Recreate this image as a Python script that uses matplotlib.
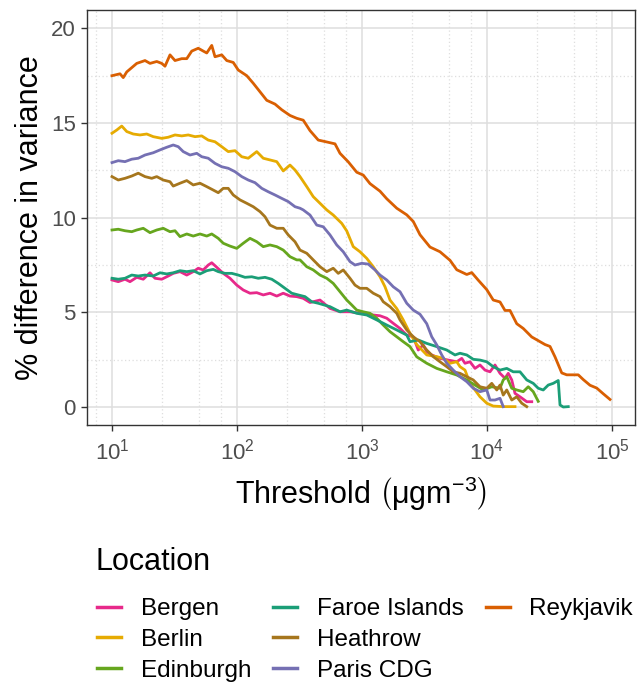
import numpy as np
import matplotlib
matplotlib.use("Agg")
import matplotlib.pyplot as plt
from matplotlib.lines import Line2D
from matplotlib.ticker import FixedLocator, NullFormatter

plt.rcParams['font.family'] = ['Liberation Sans', 'DejaVu Sans']
plt.rcParams['mathtext.fontset'] = 'custom'
plt.rcParams['mathtext.rm'] = 'Liberation Sans'
plt.rcParams['mathtext.it'] = 'Liberation Sans:italic'
plt.rcParams['mathtext.bf'] = 'Liberation Sans:bold'

# data: x = log10(threshold), y = % difference in variance
bergen_x = [1.000, 1.050, 1.104, 1.144, 1.198, 1.250, 1.304, 1.344, 1.398, 1.450, 1.490, 1.544,
            1.598, 1.650, 1.690, 1.730, 1.770, 1.798, 1.838, 1.890, 1.944, 1.998, 2.050, 2.104,
            2.158, 2.210, 2.264, 2.318, 2.370, 2.424, 2.478, 2.530, 2.584, 2.664, 2.744, 2.824,
            2.904, 2.984, 3.090, 3.144, 3.198, 3.250, 3.304, 3.358, 3.410, 3.450, 3.490, 3.518,
            3.558, 3.624, 3.690, 3.758, 3.798, 3.824, 3.864, 3.904, 3.944, 3.984, 4.024, 4.064,
            4.104, 4.144, 4.170, 4.198, 4.224, 4.264, 4.318, 4.358]
bergen_y = [6.71, 6.62, 6.75, 6.62, 6.85, 6.75, 7.09, 6.80, 6.75, 6.92, 7.06, 7.15,
            6.97, 7.15, 7.33, 7.24, 7.50, 7.62, 7.38, 7.06, 6.80, 6.44, 6.18, 6.01,
            6.04, 5.92, 6.01, 5.86, 6.01, 5.86, 5.83, 5.74, 5.52, 5.65, 5.21, 5.03,
            5.03, 4.95, 4.86, 4.82, 4.69, 4.42, 4.15, 3.80, 3.71, 3.01, 3.28, 2.92,
            2.75, 2.57, 2.48, 2.39, 2.57, 2.31, 2.39, 2.04, 2.22, 1.95, 1.86, 2.22,
            1.78, 1.52, 1.78, 1.43, 0.72, 0.54, 0.28, 0.28]

berlin_x = [1.000, 1.038, 1.078, 1.118, 1.170, 1.224, 1.278, 1.330, 1.398, 1.450, 1.504, 1.558,
            1.610, 1.664, 1.718, 1.770, 1.824, 1.878, 1.930, 1.984, 2.038, 2.090, 2.158, 2.210,
            2.264, 2.318, 2.370, 2.424, 2.464, 2.504, 2.558, 2.610, 2.664, 2.718, 2.770, 2.838,
            2.878, 2.930, 2.984, 3.038, 3.090, 3.144, 3.184, 3.224, 3.278, 3.330, 3.384, 3.438,
            3.518, 3.598, 3.650, 3.704, 3.758, 3.784, 3.824, 3.864, 3.904, 3.944, 3.998, 4.050,
            4.130, 4.224]
berlin_y = [14.46, 14.63, 14.84, 14.55, 14.42, 14.37, 14.42, 14.28, 14.19, 14.25, 14.37, 14.32,
            14.37, 14.28, 14.32, 14.10, 14.01, 13.75, 13.49, 13.54, 13.22, 13.14, 13.49, 13.14,
            13.05, 12.96, 12.47, 12.78, 12.52, 12.17, 11.64, 11.11, 10.76, 10.41, 10.14, 9.70,
            9.30, 8.47, 8.20, 7.85, 7.41, 6.88, 6.35, 5.65, 5.20, 4.60, 3.89, 3.30,
            2.75, 2.66, 2.57, 2.31, 2.39, 2.13, 1.95, 1.25, 0.90, 0.54, 0.20, 0.05,
            0.02, 0.02]

edinburgh_x = [1.000, 1.050, 1.104, 1.158, 1.198, 1.250, 1.304, 1.358, 1.410, 1.464, 1.504, 1.544,
               1.598, 1.650, 1.704, 1.758, 1.798, 1.850, 1.890, 1.944, 1.998, 2.050, 2.104, 2.158,
               2.210, 2.264, 2.318, 2.370, 2.424, 2.478, 2.504, 2.558, 2.610, 2.664, 2.718, 2.770,
               2.824, 2.878, 2.918, 2.958, 3.010, 3.064, 3.118, 3.170, 3.224, 3.278, 3.330, 3.384,
               3.438, 3.518, 3.598, 3.678, 3.758, 3.838, 3.904, 3.970, 4.038, 4.104, 4.130, 4.158,
               4.198, 4.238, 4.290, 4.330, 4.370, 4.410]
edinburgh_y = [9.35, 9.39, 9.31, 9.26, 9.35, 9.44, 9.21, 9.35, 9.44, 9.26, 9.31, 9.00,
               9.14, 9.03, 9.14, 9.03, 9.14, 8.91, 8.65, 8.50, 8.38, 8.65, 8.91, 8.73,
               8.47, 8.56, 8.47, 8.29, 7.94, 7.77, 7.77, 7.41, 7.24, 6.97, 6.80, 6.53,
               6.09, 5.65, 5.39, 5.12, 5.03, 4.95, 4.69, 4.33, 3.98, 3.71, 3.45, 3.19,
               2.65, 2.31, 2.04, 1.86, 1.69, 1.43, 1.16, 0.90, 1.07, 0.99, 1.43, 1.60,
               0.99, 0.90, 0.81, 1.07, 0.81, 0.30]

faroe_x = [1.000, 1.050, 1.104, 1.158, 1.210, 1.264, 1.330, 1.384, 1.438, 1.490, 1.544, 1.598,
           1.650, 1.704, 1.758, 1.810, 1.850, 1.904, 1.958, 2.010, 2.064, 2.118, 2.170, 2.224,
           2.278, 2.330, 2.384, 2.438, 2.490, 2.544, 2.598, 2.650, 2.744, 2.824, 2.878, 2.958,
           3.038, 3.118, 3.198, 3.278, 3.358, 3.384, 3.450, 3.518, 3.598, 3.678, 3.744, 3.784,
           3.838, 3.890, 3.944, 3.998, 4.050, 4.104, 4.158, 4.210, 4.264, 4.318, 4.370, 4.410,
           4.450, 4.490, 4.530, 4.570, 4.584, 4.610, 4.650]
faroe_y = [6.80, 6.75, 6.80, 6.97, 6.92, 6.97, 6.92, 7.09, 7.03, 7.09, 7.20, 7.15,
           7.20, 7.03, 7.20, 7.27, 7.15, 7.06, 7.06, 6.97, 6.85, 6.88, 6.80, 6.85,
           6.75, 6.53, 6.27, 6.01, 5.92, 5.83, 5.56, 5.48, 5.30, 5.03, 5.12, 4.95,
           4.86, 4.60, 4.33, 4.07, 3.80, 3.45, 3.54, 3.36, 3.19, 3.01, 2.75, 2.84,
           2.75, 2.52, 2.48, 2.39, 2.13, 1.95, 2.04, 1.86, 1.86, 1.43, 1.25, 0.99,
           0.90, 1.16, 1.25, 1.40, 0.11, 0.00, 0.02]

heathrow_x = [1.000, 1.050, 1.104, 1.158, 1.210, 1.264, 1.318, 1.358, 1.410, 1.464, 1.490, 1.544,
              1.598, 1.650, 1.704, 1.758, 1.810, 1.850, 1.890, 1.930, 1.970, 2.024, 2.078, 2.130,
              2.184, 2.224, 2.264, 2.318, 2.370, 2.410, 2.464, 2.504, 2.558, 2.610, 2.664, 2.718,
              2.770, 2.810, 2.850, 2.904, 2.944, 2.984, 3.038, 3.090, 3.144, 3.170, 3.224, 3.278,
              3.304, 3.358, 3.410, 3.464, 3.518, 3.570, 3.624, 3.678, 3.730, 3.784, 3.838, 3.890,
              3.944, 3.998, 4.038, 4.078, 4.104, 4.130, 4.158, 4.198, 4.238, 4.278, 4.318]
heathrow_y = [12.17, 11.99, 12.08, 12.20, 12.35, 12.17, 12.08, 12.17, 11.99, 11.90, 11.67, 11.82,
              11.96, 11.73, 11.82, 11.64, 11.46, 11.32, 11.55, 11.55, 11.20, 10.94, 10.76, 10.58,
              10.32, 10.05, 9.61, 9.44, 9.44, 9.09, 8.73, 8.29, 8.12, 7.77, 7.41, 7.15,
              7.33, 7.06, 7.24, 6.80, 6.44, 6.27, 6.27, 6.01, 5.83, 5.56, 5.30, 4.95,
              4.60, 4.07, 3.71, 3.45, 3.01, 2.66, 2.39, 2.13, 1.86, 1.78, 1.60, 1.43,
              1.07, 0.99, 1.25, 0.90, 1.16, 0.63, 0.90, 0.37, 0.54, 0.20, 0.02]

paris_x = [1.000, 1.050, 1.104, 1.158, 1.210, 1.264, 1.330, 1.384, 1.438, 1.490, 1.530, 1.570,
           1.624, 1.678, 1.718, 1.770, 1.824, 1.878, 1.930, 1.984, 2.038, 2.090, 2.144, 2.198,
           2.250, 2.304, 2.358, 2.410, 2.464, 2.504, 2.530, 2.584, 2.638, 2.690, 2.744, 2.798,
           2.850, 2.904, 2.944, 2.998, 3.050, 3.104, 3.144, 3.198, 3.250, 3.304, 3.358, 3.410,
           3.464, 3.518, 3.558, 3.598, 3.638, 3.678, 3.730, 3.784, 3.838, 3.890, 3.944, 3.998,
           4.024, 4.064, 4.104, 4.130]
paris_y = [12.91, 13.01, 12.96, 13.09, 13.14, 13.31, 13.43, 13.58, 13.72, 13.84, 13.75, 13.49,
           13.31, 13.40, 13.22, 13.14, 12.87, 12.69, 12.61, 12.43, 12.17, 11.99, 11.85, 11.55,
           11.37, 11.20, 11.02, 10.85, 10.58, 10.50, 10.41, 10.14, 9.61, 9.52, 9.09, 8.56,
           8.20, 7.68, 7.50, 7.59, 7.55, 7.24, 6.97, 6.71, 6.35, 6.09, 5.48, 5.12,
           4.90, 4.40, 3.71, 3.28, 2.75, 2.31, 1.95, 1.60, 1.34, 0.99, 0.81, 0.90,
           0.37, 0.37, 0.46, 0.02]

reykjavik_x = [1.000, 1.064, 1.090, 1.118, 1.198, 1.264, 1.304, 1.358, 1.398, 1.424, 1.464, 1.504,
               1.558, 1.598, 1.638, 1.690, 1.730, 1.758, 1.798, 1.824, 1.878, 1.918, 1.970, 2.010,
               2.078, 2.130, 2.184, 2.238, 2.304, 2.358, 2.424, 2.478, 2.530, 2.584, 2.650, 2.718,
               2.784, 2.824, 2.890, 2.958, 3.010, 3.064, 3.144, 3.198, 3.278, 3.358, 3.410, 3.464,
               3.544, 3.624, 3.704, 3.758, 3.838, 3.878, 3.930, 3.998, 4.050, 4.104, 4.144, 4.184,
               4.238, 4.290, 4.358, 4.398, 4.464, 4.504, 4.544, 4.598, 4.638, 4.690, 4.730, 4.770,
               4.824, 4.878, 4.930, 4.984]
reykjavik_y = [17.50, 17.60, 17.40, 17.70, 18.15, 18.30, 18.15, 18.25, 18.15, 18.00, 18.60, 18.30,
               18.40, 18.40, 18.80, 18.95, 18.80, 18.70, 19.10, 18.50, 18.60, 18.30, 18.20, 17.80,
               17.50, 17.10, 16.65, 16.20, 16.00, 15.70, 15.40, 15.25, 15.15, 14.60, 14.10, 14.00,
               13.90, 13.40, 12.95, 12.40, 12.25, 11.80, 11.40, 11.00, 10.50, 10.15, 9.80, 9.10,
               8.45, 8.20, 7.75, 7.25, 7.00, 7.10, 6.70, 6.20, 5.65, 5.55, 5.10, 5.10,
               4.40, 4.15, 3.70, 3.55, 3.30, 3.20, 2.65, 1.80, 1.70, 1.70, 1.70, 1.45,
               1.15, 1.00, 0.70, 0.40]

locations = ["Bergen", "Berlin", "Edinburgh", "Faroe Islands", "Heathrow", "Paris CDG", "Reykjavik"]
series_x = [bergen_x, berlin_x, edinburgh_x, faroe_x, heathrow_x, paris_x, reykjavik_x]
series_y = [bergen_y, berlin_y, edinburgh_y, faroe_y, heathrow_y, paris_y, reykjavik_y]
colors = ["#E7298A", "#E6AB02", "#66A61E", "#1B9E77", "#A6761D", "#7570B3", "#D95F02"]

W, H = 642, 683
fig = plt.figure(figsize=(W / 100, H / 100), dpi=100)
ax = fig.add_axes([87 / W, 1 - 425 / H, (635 - 87) / W, (425 - 10) / H])

for lx, y, c in zip(series_x, series_y, colors):
    ax.plot(10 ** np.array(lx), y, color=c, lw=2.0)

ax.set_xscale('log')
ax.set_xlim(10 ** 0.8, 10 ** 5.184)
ax.set_ylim(-0.95, 20.97)

# grid: solid major, dotted minor
major_x = [10.0 ** k for k in range(1, 6)]
minor_x = [m * 10.0 ** k for k in range(0, 5) for m in (2.5, 5, 7.5)]
ax.xaxis.set_major_locator(FixedLocator(major_x))
ax.xaxis.set_minor_locator(FixedLocator(minor_x))
ax.xaxis.set_minor_formatter(NullFormatter())
ax.set_xticklabels([r'$10^{%d}$' % k for k in range(1, 6)])
ax.set_yticks([0, 5, 10, 15, 20])
ax.yaxis.set_minor_locator(FixedLocator([2.5, 7.5, 12.5, 17.5]))

ax.grid(True, which='major', color='#DEDEDE', lw=1.1)
ax.grid(True, which='minor', color='#DEDEDE', lw=0.9, ls=(0, (1, 2)))
ax.set_axisbelow(True)
ax.tick_params(which='minor', length=0)
ax.tick_params(which='major', length=4, width=1, color='#333333', labelcolor='#4D4D4D',
               labelsize=16)
ax.tick_params(axis='x', pad=6)
ax.tick_params(axis='y', pad=4)
for s in ax.spines.values():
    s.set_color('#333333')
    s.set_linewidth(1)

ax.set_xlabel(r'Threshold $\left(\mathrm{\mu gm}^{-3}\right)$', fontsize=22, labelpad=7)
ax.set_ylabel('% difference in variance', fontsize=22, labelpad=4)

# legend filled column by column: 3 + 3 + 1, blanks pad the last column
handles = [Line2D([], [], color=c, lw=2.5) for c in colors]
labels = list(locations)
blank = Line2D([], [], alpha=0)
handles += [blank, blank]
labels += ['', '']
fig.text(96 / W, 1 - 562 / H, 'Location', fontsize=22, ha='left', va='center')
fig.legend(handles, labels, ncol=3, loc='upper left', bbox_to_anchor=(97 / W, 1 - 598 / H),
           frameon=False, fontsize=17.5, handlelength=1.0, handletextpad=0.8,
           columnspacing=0.9, labelspacing=0.36, borderpad=0, borderaxespad=0)

fig.savefig('out.png', dpi=100)
